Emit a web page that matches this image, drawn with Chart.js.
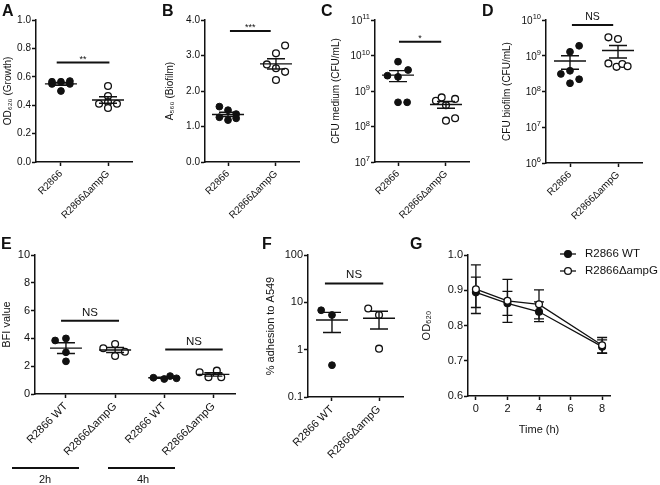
<!DOCTYPE html>
<html>
<head>
<meta charset="utf-8">
<script src="https://cdn.jsdelivr.net/npm/chart.js@4.4.1/dist/chart.umd.min.js"></script>
<style>
  html, body { margin: 0; padding: 0; background: #fff; }
  #fig { position: relative; width: 660px; height: 485px; overflow: hidden; font-family: "Liberation Sans", Arial, Helvetica, sans-serif; color: #111; }
  #fig canvas { position: absolute; }
  .tag { position: absolute; font-weight: bold; font-size: 16px; line-height: 1; }
  .time { position: absolute; font-size: 11px; line-height: 1; }
  .hbar { position: absolute; height: 2px; background: #111; }
</style>
</head>
<body>
<div id="fig">
  <canvas id="chartA" width="160" height="235" style="left:0px;top:0px"></canvas>
  <canvas id="chartB" width="155" height="235" style="left:160px;top:0px"></canvas>
  <canvas id="chartC" width="160" height="235" style="left:320px;top:0px"></canvas>
  <canvas id="chartD" width="180" height="235" style="left:480px;top:0px"></canvas>
  <canvas id="chartE" width="245" height="245" style="left:0px;top:240px"></canvas>
  <canvas id="chartF" width="160" height="245" style="left:250px;top:240px"></canvas>
  <canvas id="chartG" width="250" height="205" style="left:410px;top:240px"></canvas>

  <div class="tag" style="left:2px;top:3px">A</div>
  <div class="tag" style="left:162px;top:3px">B</div>
  <div class="tag" style="left:321px;top:3px">C</div>
  <div class="tag" style="left:482px;top:3px">D</div>
  <div class="tag" style="left:1px;top:236px">E</div>
  <div class="tag" style="left:262px;top:236px">F</div>
  <div class="tag" style="left:410px;top:236px">G</div>

  <div class="hbar" style="left:12px;top:467px;width:67px"></div>
  <div class="hbar" style="left:108px;top:467px;width:67px"></div>
  <div class="time" style="left:39px;top:474px">2h</div>
  <div class="time" style="left:137px;top:474px">4h</div>
</div>

<script>
Chart.defaults.font.family = "'Liberation Sans', Arial, Helvetica, sans-serif";
Chart.defaults.color = "#111";
Chart.defaults.animation = false;

// ---- datos ----
const strainsTop = ["R2866", "R2866ΔampG"];
const strainsBottom = ["R2866 WT", "R2866ΔampG"];
const strainsBFI = ["R2866 WT", "R2866ΔampG", "R2866 WT", "R2866ΔampG"];

// A: OD620 (crecimiento)
const growthWT = [0.565, 0.565, 0.57, 0.55, 0.55, 0.5];
const growthWTx = [-0.19, 0, 0.19, -0.19, 0.19, 0];
const growthAmpG = [0.535, 0.465, 0.41, 0.42, 0.41, 0.38];
const growthAmpGx = [0, 0, -0.19, 0, 0.19, 0];
const growthTicks = [0, 0.2, 0.4, 0.6, 0.8, 1.0];

// B: A560 (biofilm)
const biofilmWT = [1.56, 1.46, 1.35, 1.26, 1.23, 1.18];
const biofilmWTx = [-0.18, 0, 0.17, -0.18, 0.17, 0];
const biofilmAmpG = [3.28, 3.06, 2.75, 2.64, 2.54, 2.31];
const biofilmAmpGx = [0.19, 0, -0.19, 0, 0.19, 0];
const biofilmTicks = [0, 1, 2, 3, 4];

// C: CFU medio
const cfuMediumWT = [6.7e9, 3.9e9, 2.7e9, 2.5e9, 4.8e8, 4.8e8];
const cfuMediumWTx = [0, 0.21, -0.22, 0, 0, 0.19];
const cfuMediumAmpG = [5.3e8, 6.6e8, 6.0e8, 4.0e8, 1.46e8, 1.7e8];
const cfuMediumAmpGx = [-0.21, -0.09, 0.19, 0, 0, 0.19];
const cfuMediumTicks = [1e7, 1e8, 1e9, 1e10, 1e11];

// D: CFU biofilm
const cfuBiofilmWT = [1.9e9, 1.29e9, 3.8e8, 3.1e8, 2.2e8, 1.7e8];
const cfuBiofilmWTx = [0.19, 0, 0, -0.19, 0.19, 0];
const cfuBiofilmAmpG = [3.27e9, 2.94e9, 6.1e8, 4.9e8, 5.9e8, 5.1e8];
const cfuBiofilmAmpGx = [-0.2, 0, -0.2, -0.03, 0.09, 0.2];
const cfuBiofilmTicks = [1e6, 1e7, 1e8, 1e9, 1e10];

// E: BFI 2h / 4h
const bfi2hWT = [3.85, 4.0, 3.0, 2.35];
const bfi2hWTx = [-0.22, 0, 0, 0];
const bfi2hAmpG = [3.29, 3.6, 3.04, 2.73];
const bfi2hAmpGx = [-0.24, 0, 0.2, 0];
const bfi4hWT = [1.17, 1.08, 1.29, 1.13];
const bfi4hWTx = [-0.22, 0, 0.12, 0.25];
const bfi4hAmpG = [1.56, 1.2, 1.68, 1.2];
const bfi4hAmpGx = [-0.28, -0.1, 0.07, 0.16];
const bfiTicks = [0, 2, 4, 6, 8, 10];

// F: % adhesion a A549
const adhesionWT = [6.8, 5.4, 0.47];
const adhesionWTx = [-0.23, 0, 0];
const adhesionAmpG = [7.4, 5.4, 1.05];
const adhesionAmpGx = [-0.23, 0, 0];
const adhesionTicks = [0.1, 1, 10, 100];

// G: curva OD620 vs tiempo
const timeH = [0, 2, 4, 8];
const odWT = [0.894, 0.863, 0.839, 0.74];
const odWTerr = [0.043, 0.034, 0.028, 0.019];
const odAmpG = [0.903, 0.87, 0.86, 0.744];
const odAmpGerr = [0.069, 0.061, 0.041, 0.022];
const timeTicks = [0, 2, 4, 6, 8];
const odTicks = [0.6, 0.7, 0.8, 0.9, 1.0];

const INK = "#111";
const FAMILY = Chart.defaults.font.family;

// un grupo de puntos (relleno u abierto)
function dotSet(values, jitter, group, open) {
  return {
    data: values.map((v, i) => ({ x: group + jitter[i], y: v })),
    group: group,
    showLine: false,
    pointRadius: 3.4,
    pointBorderWidth: open ? 1.3 : 1,
    pointBackgroundColor: open ? "#fff" : INK,
    pointBorderColor: INK,
    clip: false,
  };
}

// media + SEM calculados de los datos
const meanSemPlugin = {
  id: "meanSem",
  afterDatasetsDraw(chart) {
    const { ctx } = chart;
    const x = chart.scales.x, y = chart.scales.y;
    ctx.save();
    ctx.strokeStyle = INK;
    ctx.lineWidth = 1.4;
    chart.data.datasets.forEach((ds) => {
      const vals = ds.data.map((p) => p.y);
      const n = vals.length;
      const mean = vals.reduce((a, b) => a + b, 0) / n;
      const sd = Math.sqrt(vals.reduce((a, b) => a + (b - mean) ** 2, 0) / (n - 1));
      const sem = sd / Math.sqrt(n);
      const cx = x.getPixelForValue(ds.group);
      const ym = y.getPixelForValue(mean);
      const yt = y.getPixelForValue(mean + sem);
      const yb = y.getPixelForValue(mean - sem);
      ctx.beginPath();
      ctx.moveTo(cx - 16, ym); ctx.lineTo(cx + 16, ym);
      ctx.moveTo(cx, yt); ctx.lineTo(cx, yb);
      ctx.moveTo(cx - 9, yt); ctx.lineTo(cx + 9, yt);
      ctx.moveTo(cx - 9, yb); ctx.lineTo(cx + 9, yb);
      ctx.stroke();
    });
    ctx.restore();
  },
};

// etiquetas 10^n con exponente elevado (ejes log de C y D)
const powTickPlugin = {
  id: "powTicks",
  afterDraw(chart) {
    const y = chart.scales.y;
    if (y.type !== "logarithmic" || !y.options.powLabels) return;
    const { ctx } = chart;
    ctx.save();
    ctx.fillStyle = INK;
    ctx.textBaseline = "middle";
    ctx.textAlign = "left";
    y.ticks.forEach((t) => {
      const py = y.getPixelForValue(t.value);
      const exp = String(Math.round(Math.log10(t.value)));
      ctx.font = "7.5px " + FAMILY;
      const wExp = ctx.measureText(exp).width;
      ctx.font = "10px " + FAMILY;
      const wBase = ctx.measureText("10").width;
      const right = y.right - 5;
      ctx.fillText("10", right - wExp - wBase, py + 1);
      ctx.font = "7.5px " + FAMILY;
      ctx.fillText(exp, right - wExp, py - 3);
    });
    ctx.restore();
  },
};

// barras de significancia
function sigPlugin(bars, fontSize) {
  return {
    id: "sig",
    afterDraw(chart) {
      const { ctx } = chart;
      const x = chart.scales.x, y = chart.scales.y;
      ctx.save();
      ctx.strokeStyle = INK;
      ctx.fillStyle = INK;
      ctx.lineWidth = 2;
      ctx.textAlign = "center";
      ctx.textBaseline = "alphabetic";
      bars.forEach((b) => {
        const x0 = x.getPixelForValue(b.from), x1 = x.getPixelForValue(b.to);
        const yy = y.getPixelForValue(b.y);
        ctx.beginPath();
        ctx.moveTo(x0, yy); ctx.lineTo(x1, yy);
        ctx.stroke();
        const stars = b.text !== "NS";
        ctx.font = (stars ? fontSize - 1 : fontSize) + "px " + FAMILY;
        ctx.fillText(b.text, (x0 + x1) / 2, yy - (stars ? 1 : 5));
      });
      ctx.restore();
    },
  };
}

function axisLook() {
  return {
    border: { display: true, color: INK, width: 1.5 },
    grid: { display: true, drawOnChartArea: false, drawTicks: true, tickLength: 4, tickWidth: 1.5, tickColor: INK },
  };
}

function yAxis(o) {
  return Object.assign(axisLook(), {
    type: o.log ? "logarithmic" : "linear",
    min: o.ticks[0],
    max: o.ticks[o.ticks.length - 1],
    powLabels: !!o.pow,
    afterBuildTicks: (s) => { s.ticks = o.ticks.map((v) => ({ value: v })); },
    afterFit: (s) => { s.width = o.width; },
    ticks: { font: { size: o.size }, padding: 1, color: INK, callback: o.pow ? () => "" : o.fmt },
    title: { display: true, text: o.title, color: INK, font: { size: o.size }, padding: { top: o.titlePad, bottom: 0 } },
  });
}

function xCatAxis(labels, min, max, height, size) {
  return Object.assign(axisLook(), {
    type: "linear",
    min: min,
    max: max,
    afterBuildTicks: (s) => { s.ticks = labels.map((_, i) => ({ value: i })); },
    afterFit: (s) => { s.height = height; },
    ticks: { minRotation: 45, maxRotation: 45, autoSkip: false, padding: 2, color: INK, font: { size: size },
      callback: (v) => labels[Math.round(v)] },
  });
}

function dotPanel(id, p) {
  new Chart(document.getElementById(id).getContext("2d"), {
    type: "scatter",
    data: { datasets: p.sets },
    options: {
      responsive: false,
      events: [],
      layout: { autoPadding: false, padding: { left: 0, top: p.padTop, right: p.padRight, bottom: 0 } },
      plugins: { legend: { display: false }, tooltip: { enabled: false } },
      scales: {
        x: xCatAxis(p.labels, p.xmin, p.xmax, p.xHeight, p.size),
        y: yAxis(p.y),
      },
    },
    plugins: [meanSemPlugin, powTickPlugin, sigPlugin(p.bars, p.sigSize)],
  });
}

// A
dotPanel("chartA", {
  labels: strainsTop, xmin: -0.53, xmax: 1.51, xHeight: 73, padTop: 20, padRight: 28, size: 10, sigSize: 10,
  sets: [dotSet(growthWT, growthWTx, 0, false), dotSet(growthAmpG, growthAmpGx, 1, true)],
  y: { ticks: growthTicks, width: 36, size: 10, titlePad: 2, title: "OD₆₂₀ (Growth)", fmt: (v) => v.toFixed(1) },
  bars: [{ from: -0.09, to: 1.03, y: 0.7, text: "**" }],
});

// B
dotPanel("chartB", {
  labels: strainsTop, xmin: -0.48, xmax: 1.48, xHeight: 73, padTop: 20, padRight: 16, size: 10, sigSize: 10,
  sets: [dotSet(biofilmWT, biofilmWTx, 0, false), dotSet(biofilmAmpG, biofilmAmpGx, 1, true)],
  y: { ticks: biofilmTicks, width: 45, size: 10, titlePad: 4, title: "A₅₆₀ (Biofilm)", fmt: (v) => v.toFixed(1) },
  bars: [{ from: 0.04, to: 0.89, y: 3.69, text: "***" }],
});

// C
dotPanel("chartC", {
  labels: strainsTop, xmin: -0.48, xmax: 1.48, xHeight: 73, padTop: 20, padRight: 11, size: 10, sigSize: 10,
  sets: [dotSet(cfuMediumWT, cfuMediumWTx, 0, false), dotSet(cfuMediumAmpG, cfuMediumAmpGx, 1, true)],
  y: { log: true, pow: true, ticks: cfuMediumTicks, width: 55, size: 10, titlePad: 10, title: "CFU medium (CFU/mL)" },
  bars: [{ from: 0.02, to: 0.9, y: 2.45e10, text: "*" }],
});

// D
dotPanel("chartD", {
  labels: strainsTop, xmin: -0.5, xmax: 1.5, xHeight: 72, padTop: 20, padRight: 18, size: 10, sigSize: 10.5,
  sets: [dotSet(cfuBiofilmWT, cfuBiofilmWTx, 0, false), dotSet(cfuBiofilmAmpG, cfuBiofilmAmpGx, 1, true)],
  y: { log: true, pow: true, ticks: cfuBiofilmTicks, width: 66, size: 10, titlePad: 21, title: "CFU biofilm (CFU/mL)" },
  bars: [{ from: 0.04, to: 0.9, y: 7.2e9, text: "NS" }],
});

// E
dotPanel("chartE", {
  labels: strainsBFI, xmin: -0.63, xmax: 3.44, xHeight: 91, padTop: 15, padRight: 10, size: 11, sigSize: 11.5,
  sets: [
    dotSet(bfi2hWT, bfi2hWTx, 0, false), dotSet(bfi2hAmpG, bfi2hAmpGx, 1, true),
    dotSet(bfi4hWT, bfi4hWTx, 2, false), dotSet(bfi4hAmpG, bfi4hAmpGx, 3, true),
  ],
  y: { ticks: bfiTicks, width: 35, size: 11, titlePad: 0, title: "BFI value", fmt: (v) => String(v) },
  bars: [{ from: -0.1, to: 1.08, y: 5.27, text: "NS" }, { from: 2.02, to: 3.19, y: 3.2, text: "NS" }],
});

// F
dotPanel("chartF", {
  labels: strainsBottom, xmin: -0.51, xmax: 1.51, xHeight: 88, padTop: 15, padRight: 7, size: 11, sigSize: 11.5,
  sets: [dotSet(adhesionWT, adhesionWTx, 0, false), dotSet(adhesionAmpG, adhesionAmpGx, 1, true)],
  y: { log: true, ticks: adhesionTicks, width: 58, size: 11, titlePad: 14, title: "% adhesion to A549", fmt: (v) => String(v) },
  bars: [{ from: -0.15, to: 1.09, y: 25.1, text: "NS" }],
});

// G: linea con barras de error y leyenda propia
const seriesG = [
  { label: "R2866 WT", y: odWT, err: odWTerr, open: false },
  { label: "R2866ΔampG", y: odAmpG, err: odAmpGerr, open: true },
];

const errorBarPlugin = {
  id: "errorBars",
  beforeDatasetsDraw(chart) {
    const { ctx } = chart;
    const x = chart.scales.x, y = chart.scales.y;
    ctx.save();
    ctx.strokeStyle = INK;
    ctx.lineWidth = 1.3;
    seriesG.forEach((s) => {
      timeH.forEach((t, i) => {
        const cx = x.getPixelForValue(t);
        const yt = y.getPixelForValue(s.y[i] + s.err[i]);
        const yb = y.getPixelForValue(s.y[i] - s.err[i]);
        ctx.beginPath();
        ctx.moveTo(cx, yt); ctx.lineTo(cx, yb);
        ctx.moveTo(cx - 5, yt); ctx.lineTo(cx + 5, yt);
        ctx.moveTo(cx - 5, yb); ctx.lineTo(cx + 5, yb);
        ctx.stroke();
      });
    });
    ctx.restore();
  },
  afterDraw(chart) {
    // leyenda arriba a la derecha
    const { ctx } = chart;
    ctx.save();
    ctx.font = "11.5px " + FAMILY;
    ctx.textBaseline = "middle";
    seriesG.forEach((s, i) => {
      const ly = 14 + i * 17;
      ctx.strokeStyle = INK;
      ctx.lineWidth = 1.3;
      ctx.beginPath();
      ctx.moveTo(150, ly); ctx.lineTo(166, ly);
      ctx.stroke();
      ctx.beginPath();
      ctx.arc(158, ly, 3.4, 0, Math.PI * 2);
      ctx.fillStyle = s.open ? "#fff" : INK;
      ctx.fill();
      ctx.stroke();
      ctx.fillStyle = INK;
      ctx.fillText(s.label, 175, ly);
    });
    ctx.restore();
  },
};

new Chart(document.getElementById("chartG").getContext("2d"), {
  type: "line",
  data: {
    datasets: seriesG.map((s) => ({
      label: s.label,
      data: timeH.map((t, i) => ({ x: t, y: s.y[i] })),
      order: s.open ? 0 : 1,
      borderColor: INK,
      borderWidth: 1.3,
      pointRadius: 3.4,
      pointBorderWidth: 1.3,
      pointBackgroundColor: s.open ? "#fff" : INK,
      pointBorderColor: INK,
      tension: 0,
      clip: false,
    })),
  },
  options: {
    responsive: false,
    events: [],
    layout: { autoPadding: false, padding: { left: 0, top: 15, right: 50, bottom: 0 } },
    plugins: { legend: { display: false }, tooltip: { enabled: false } },
    scales: {
      x: Object.assign(axisLook(), {
        type: "linear",
        min: -0.5,
        max: 8.5,
        afterBuildTicks: (s) => { s.ticks = timeTicks.map((v) => ({ value: v })); },
        afterFit: (s) => { s.height = 49; },
        ticks: { minRotation: 0, maxRotation: 0, padding: 2, color: INK, font: { size: 11 } },
        title: { display: true, text: "Time (h)", color: INK, font: { size: 11 }, padding: { top: 0, bottom: 8 } },
      }),
      y: yAxis({ ticks: odTicks, width: 58, size: 11, titlePad: 10, title: "OD₆₂₀", fmt: (v) => v.toFixed(1) }),
    },
  },
  plugins: [errorBarPlugin],
});
</script>
</body>
</html>
